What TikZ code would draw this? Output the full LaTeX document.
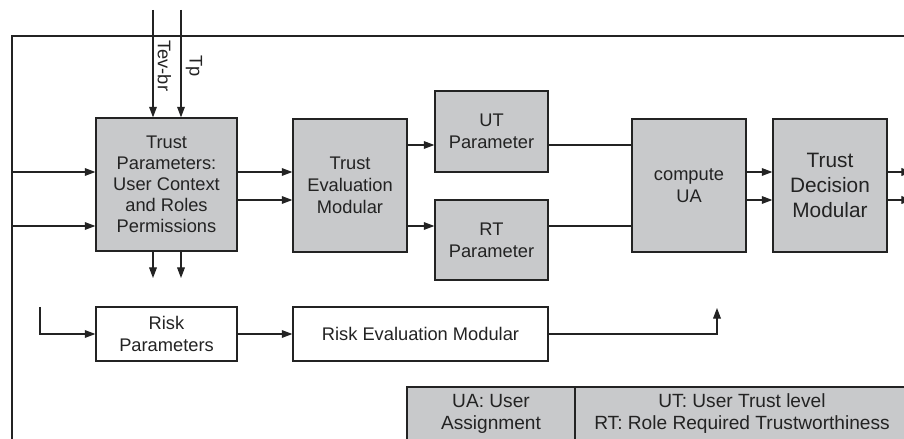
\documentclass[tikz,border=0pt]{standalone}
\usepackage{fontspec}
\setmainfont{Liberation Sans}
\usetikzlibrary{arrows.meta}
\definecolor{boxgray}{RGB}{200,201,203}
\definecolor{inkgray}{RGB}{35,35,35}
\newdimen\pxu \pxu=0.025cm

\begin{document}
\begin{tikzpicture}[x=0.025cm, y=-0.025cm, line width=0.75pt, draw=inkgray, text=inkgray,
    gbox/.style={draw, fill=boxgray, line width=0.95pt, align=center, inner sep=0pt,
        font=\fontsize{13}{15.6}\selectfont},
    wbox/.style={gbox, fill=white},
    arr/.style={-{Triangle[length=7.5pt,width=5.5pt]}},
    lbl/.style={font=\fontsize{13}{15.6}\selectfont, inner sep=3pt}]
    \useasboundingbox (0,0) rectangle (904,439);
    \clip (0,0) rectangle (904,439);

    % rows used by the connectors
    \coordinate (ra) at (0,172);
    \coordinate (rb) at (0,200);
    \coordinate (rc) at (0,226);
    \coordinate (ru) at (0,145);

    % outer frame
    \draw (12,450) |- (915,36);

    % trust part
    \node[gbox, minimum width=141\pxu, minimum height=133\pxu, font=\fontsize{13}{15}\selectfont] (tp) at (166.5,184.5)
        {Trust\\Parameters:\\User Context\\and Roles\\Permissions};
    \node[gbox, minimum width=114\pxu, minimum height=133\pxu] (te) at (350,185.5) {Trust\\Evaluation\\Modular};
    \node[gbox, minimum width=113\pxu, minimum height=81\pxu] (ut) at (491.5,131.5) {UT\\Parameter};
    \node[gbox, minimum width=113\pxu, minimum height=80\pxu] (rt) at (491.5,240) {RT\\Parameter};
    \node[gbox, minimum width=114\pxu, minimum height=133\pxu] (cua) at (689,185.5) {compute\\UA};
    \node[gbox, minimum width=114\pxu, minimum height=133\pxu, font=\fontsize{14.8}{17.8}\selectfont] (tdm) at (830,185.5)
        {Trust\\Decision\\Modular};

    % risk part
    \node[wbox, minimum width=141\pxu, minimum height=54\pxu] (rp) at (166.5,334) {Risk\\Parameters};
    \node[wbox, minimum width=255\pxu, minimum height=54\pxu] (rem) at (420.5,334) {Risk Evaluation Modular};

    % legend
    \node[gbox, minimum width=168\pxu, minimum height=54\pxu, font=\fontsize{13.6}{15.6}\selectfont] (lgua) at (491,414)
        {UA: User\\Assignment};
    \node[gbox, minimum width=334\pxu, minimum height=54\pxu, font=\fontsize{13.6}{15.6}\selectfont] (lgut) at (742,414)
        {UT: User Trust level\\RT: Role Required Trustworthiness};

    % free ends
    \coordinate (tevin) at (153,10);
    \coordinate (tpin) at (181,10);
    \coordinate (in1) at (12,172);
    \coordinate (in2) at (12,226);
    \coordinate (out1) at (153,278);
    \coordinate (out2) at (181,278);
    \coordinate (rin) at (40,307);
    \coordinate (uaup) at (717,308);
    \coordinate (exit) at (912,0);

    \draw[arr] (tevin) -- node[lbl, rotate=-90, above, pos=0.52] (tevlbl) {Tev-br} (tevin |- tp.north);
    \draw[arr] (tpin) -- node[lbl, rotate=-90, above, pos=0.52] (tplbl) {Tp} (tpin |- tp.north);
    \draw[arr] (in1) -- (in1 -| tp.west);
    \draw[arr] (in2) -- (in2 -| tp.west);
    \draw[arr] (out1 |- tp.south) -- (out1);
    \draw[arr] (out2 |- tp.south) -- (out2);
    \draw[arr] (tp.east |- ra) -- (te.west |- ra);
    \draw[arr] (tp.east |- rb) -- (te.west |- rb);
    \draw[arr] (te.east |- ru) -- (ut.west |- ru);
    \draw[arr] (te.east |- rc) -- (rt.west |- rc);
    \draw (ut.east |- ru) -- (cua.west |- ru);
    \draw (rt.east |- rc) -- (cua.west |- rc);
    \draw[arr] (cua.east |- ra) -- (tdm.west |- ra);
    \draw[arr] (cua.east |- rb) -- (tdm.west |- rb);
    \draw[arr] (tdm.east |- ra) -- (exit |- ra);
    \draw[arr] (tdm.east |- rb) -- (exit |- rb);

    \draw[arr] (rin) |- (rp.west);
    \draw[arr] (rp) -- (rem);
    \draw[arr] (rem.east) -| (uaup);
\end{tikzpicture}
\end{document}
